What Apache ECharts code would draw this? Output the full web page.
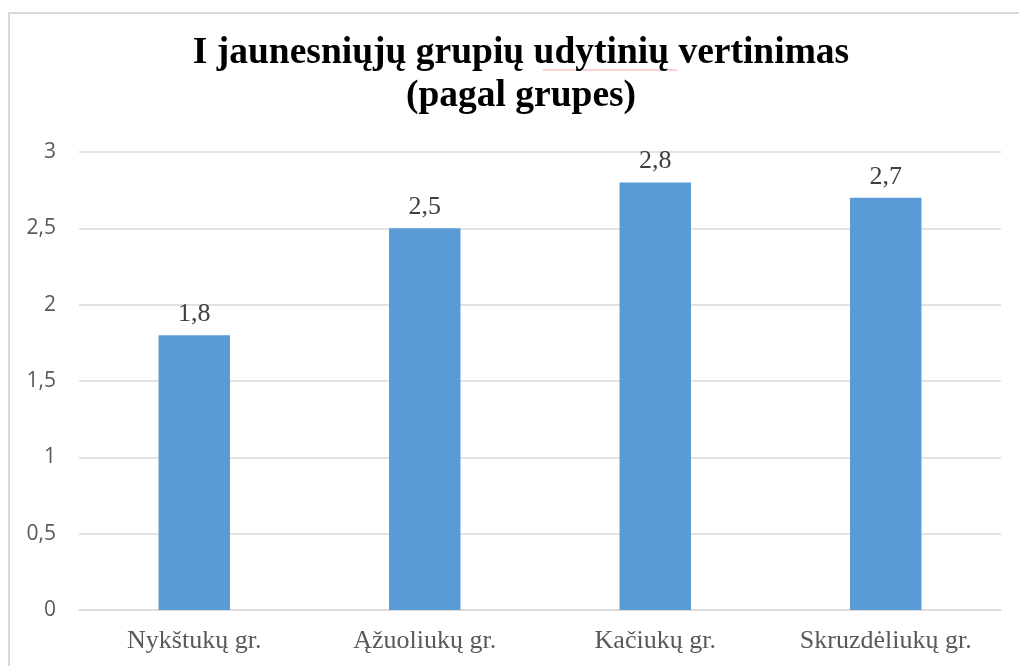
<!DOCTYPE html>
<html>
<head>
<meta charset="utf-8">
<script src="https://cdn.jsdelivr.net/npm/echarts@6/dist/echarts.min.js"></script>
<style>
  html, body { margin: 0; padding: 0; background: #fff; }
  #chart { width: 1019px; height: 666px; }
</style>
</head>
<body>
<div id="chart"></div>
<script>
const categories = ['Nykštukų gr.', 'Ąžuoliukų gr.', 'Kačiukų gr.', 'Skruzdėliukų gr.']
const values = [1.8, 2.5, 2.8, 2.7]
const titleLines = ['I jaunesniųjų grupių udytinių vertinimas', '(pagal grupes)']

const fmt = v => String(v).replace('.', ',')

const chart = echarts.init(document.getElementById('chart'))
chart.setOption({
  animation: false,
  title: {
    text: titleLines.join('\n'),
    left: 521,
    textAlign: 'center',
    top: 32,
    padding: 0,
    textStyle: {
      fontFamily: 'Liberation Serif',
      fontWeight: 'bold',
      fontSize: 37.5,
      lineHeight: 43,
      color: '#000'
    }
  },
  grid: {
    left: 79,
    right: 18,
    top: 152,
    bottom: 56,
    containLabel: false
  },
  xAxis: {
    type: 'category',
    data: categories,
    axisTick: { show: false },
    axisLine: { lineStyle: { color: '#d9d9d9', width: 1.5 } },
    axisLabel: {
      margin: 18,
      fontFamily: 'Liberation Serif',
      fontSize: 26,
      color: '#595959'
    }
  },
  yAxis: {
    type: 'value',
    min: 0,
    max: 3,
    interval: 0.5,
    axisLine: { show: false },
    axisTick: { show: false },
    splitLine: { lineStyle: { color: '#d9d9d9', width: 1.5 } },
    axisLabel: {
      margin: 23,
      fontFamily: 'Open Sans',
      fontSize: 21,
      color: '#595959',
      formatter: fmt
    }
  },
  series: [{
    type: 'bar',
    data: values,
    barWidth: '31%',
    itemStyle: { color: '#5b9bd5' },
    label: {
      show: true,
      position: 'top',
      distance: 8,
      fontFamily: 'Liberation Serif',
      fontSize: 26,
      color: '#404040',
      formatter: p => fmt(p.value)
    }
  }],
  graphic: [{
    type: 'rect',
    silent: true,
    z: -1,
    shape: { x: 9, y: 13, width: 1100, height: 700 },
    style: { fill: 'none', stroke: '#d9d9d9', lineWidth: 2 }
  }, {
    // spell-check underline seen in the source image
    type: 'line',
    silent: true,
    z: -1,
    shape: { x1: 543, y1: 70, x2: 677, y2: 70 },
    style: { stroke: '#f4a0a0', lineWidth: 1 }
  }]
})
</script>
</body>
</html>
